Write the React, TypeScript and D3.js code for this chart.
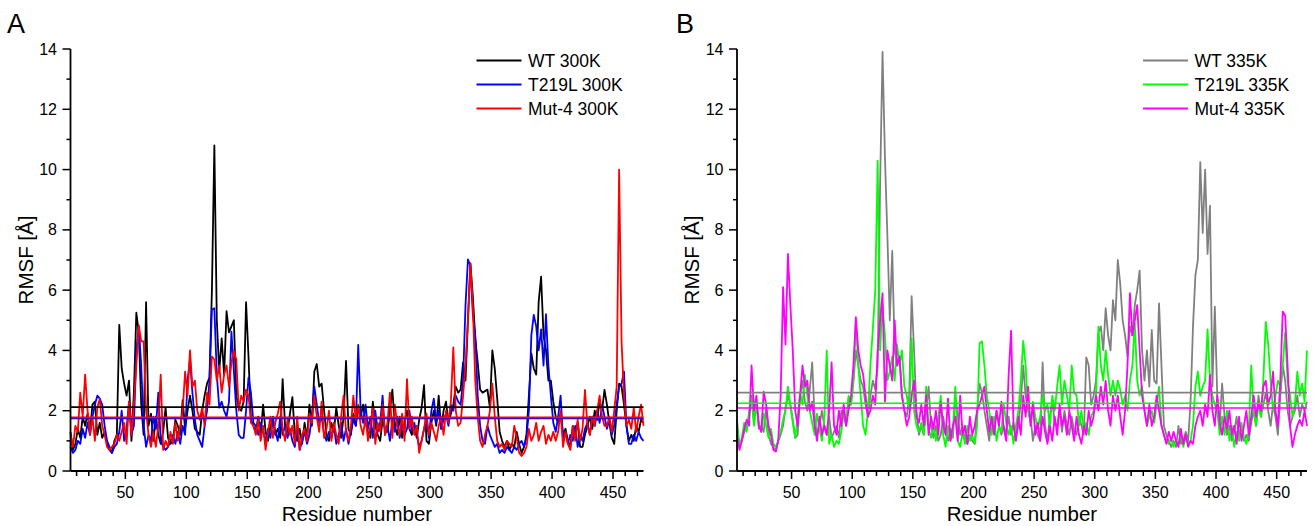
import React from "react";
import * as d3 from "d3";

// ---------- DATA ----------
// residues sampled every 2 from 5 to 475 (236 points)
const RES_START = 5;
const RES_STEP = 2;
const X_DOMAIN = [5, 475];
const Y_DOMAIN = [0, 14];
const X_MAJOR = [50, 100, 150, 200, 250, 300, 350, 400, 450];
const Y_MAJOR = [0, 2, 4, 6, 8, 10, 12, 14];

const wt300 = [
  1.3, 0.7, 0.9, 1.4, 1.1, 1.8, 1.5, 1.9, 1.3, 2.2,
  2.3, 1.2, 1.6, 1.1, 1.3, 0.9, 0.7, 0.6, 1.0, 1.2,
  4.85, 3.4, 2.9, 2.5, 3.0, 1.0, 2.6, 5.25, 4.6, 2.2,
  1.2, 5.6, 1.5, 1.9, 1.0, 1.8, 1.2, 0.9, 1.3, 2.1,
  1.1, 0.9, 1.0, 1.7, 1.5, 1.2, 2.35, 1.4, 2.0, 2.5,
  2.0, 1.4, 1.3, 1.2, 2.0, 2.5, 2.9, 3.1, 6.0, 10.8,
  5.0, 3.3, 4.4, 3.2, 5.3, 4.6, 4.8, 5.0, 2.5, 2.1,
  2.0, 2.3, 5.6, 3.8, 1.7, 1.5, 1.3, 1.8, 1.2, 2.2,
  1.3, 1.0, 1.5, 1.8, 1.2, 1.4, 1.1, 3.05, 1.5, 1.3,
  1.9, 2.45, 1.2, 1.0, 1.4, 0.9, 1.6, 1.1, 2.2, 1.5,
  3.3, 3.55, 2.8, 2.9, 2.0, 1.2, 1.0, 1.6, 1.3, 2.1,
  1.5, 1.1, 1.8, 3.65, 1.4, 1.2, 1.9, 1.5, 2.1, 1.8,
  2.2, 1.6, 1.3, 1.1, 2.3, 1.5, 1.2, 1.0, 1.7, 1.4,
  1.3, 2.0, 2.7, 1.5, 1.2, 1.8, 1.1, 1.6, 2.0, 1.4,
  1.2, 1.5, 1.1, 1.7, 2.1, 2.85, 1.0, 0.9, 1.6, 2.0,
  1.5, 2.5, 1.4, 2.0, 2.3, 1.6, 1.9, 2.2, 2.8, 2.6,
  2.7, 3.6, 3.0, 5.0, 6.89, 5.8, 4.4, 3.6, 2.7, 2.6,
  2.65, 2.7, 2.1, 4.0, 3.4, 2.4, 1.3, 1.0, 0.8, 1.0,
  0.7, 0.9, 0.8, 1.3, 0.9, 0.6, 0.8, 1.2, 2.5, 3.9,
  3.4, 3.2, 5.6, 6.45, 4.5, 4.0, 3.0, 3.0, 2.3, 1.8,
  1.6, 1.9, 1.2, 1.4, 1.0, 0.8, 1.5, 1.2, 1.6, 0.8,
  0.8, 1.2, 1.5, 1.8, 1.4, 2.0, 1.7, 2.3, 2.0, 2.69,
  2.2, 1.6, 1.1, 0.9, 2.0, 2.9, 2.8, 2.2, 1.5, 1.0,
  1.2, 1.0, 1.5, 1.3, 1.7, 1.6,
];

const t219l300 = [
  0.8, 0.6, 0.7, 1.0, 0.9, 1.4, 1.1, 1.6, 1.2, 1.8,
  2.2, 2.5, 2.4, 2.2, 1.5, 1.0, 0.8, 0.6, 0.8, 0.9,
  1.3, 2.0, 1.0, 1.4, 2.3, 1.2, 1.5, 4.0, 4.8, 3.5,
  1.5, 0.8, 1.2, 1.0, 1.8, 1.4, 2.6, 1.0, 0.8, 0.7,
  0.8, 1.0, 1.2, 0.9, 1.3, 0.9, 1.5, 1.2, 3.0, 3.7,
  2.6, 1.7, 1.2, 1.0, 0.8, 1.5, 2.0, 3.0, 5.36, 5.4,
  3.2, 2.1, 2.3, 2.0, 1.8, 2.3, 4.62, 3.3, 2.0, 1.2,
  1.1, 1.1, 2.0, 3.1, 2.6, 1.6, 1.5, 1.2, 1.6, 1.3,
  1.0, 1.4, 1.1, 1.7, 1.3, 1.0, 1.8, 1.2, 1.5, 1.1,
  1.4, 1.0, 0.8, 1.5, 0.7, 1.0, 1.3, 0.9, 1.2, 1.8,
  2.8, 2.2, 1.6, 1.8, 1.2, 1.0, 1.3, 1.1, 1.5, 0.9,
  1.2, 1.6, 1.0, 1.4, 0.9, 1.3, 1.7, 1.5, 4.18, 2.0,
  1.6, 2.2, 1.4, 1.8, 1.1, 2.0, 1.3, 1.6, 2.5, 1.2,
  1.5, 1.0, 1.7, 1.3, 1.8, 1.1, 1.6, 1.2, 1.4, 2.0,
  1.3, 1.6, 1.2, 0.8, 1.0, 1.4, 1.7, 1.1, 2.0, 2.4,
  1.6, 2.0, 1.4, 1.7, 1.9, 1.5, 2.2, 2.0, 2.5, 2.3,
  2.2, 3.0, 5.5, 7.02, 6.8, 5.2, 4.5, 2.5, 1.5, 1.0,
  0.9, 1.5, 1.2, 1.0, 0.8, 0.9, 0.6, 0.7, 0.6, 0.8,
  0.7, 0.6, 0.8, 0.7, 0.9, 1.0, 0.8, 1.1, 2.0, 4.5,
  5.18, 4.8, 4.0, 4.7, 3.5, 5.2, 3.5, 2.5, 1.6, 1.3,
  1.8, 2.5, 1.1, 1.3, 0.9, 1.2, 1.0, 1.5, 0.8, 1.2,
  1.0, 1.4, 1.6, 1.2, 1.8, 1.5, 2.0, 1.6, 2.2, 1.8,
  1.4, 1.7, 1.2, 1.5, 2.2, 2.8, 2.9, 3.3, 1.5, 0.9,
  0.9, 1.2, 1.0, 1.3, 1.1, 1.0,
];

const mut4_300 = [
  1.2, 0.8, 1.5, 1.3, 2.6, 1.8, 3.2, 2.0, 1.2, 1.8,
  1.0, 2.1, 2.4, 1.5, 1.2, 0.8, 0.7, 0.8, 0.9, 1.2,
  1.0, 1.3, 1.6, 0.9, 2.3, 1.2, 2.2, 3.5, 4.83, 4.3,
  4.3, 2.0, 1.2, 0.8, 1.3, 0.8, 1.5, 3.2, 0.7, 1.0,
  0.8, 1.3, 0.9, 1.6, 1.0, 1.5, 2.0, 3.3, 2.5, 4.0,
  2.8, 3.0, 2.0, 1.7, 2.1, 1.5, 2.6, 2.2, 3.8, 3.7,
  3.0, 3.5, 2.6, 3.2, 3.5, 2.8, 3.6, 4.0, 3.7, 2.0,
  2.5, 2.3, 2.7, 2.5, 1.6, 1.5, 1.2, 1.7, 1.0, 1.5,
  0.7, 1.3, 1.8, 1.1, 1.6, 1.9, 2.3, 1.4, 1.0, 1.7,
  1.2, 1.5, 0.9, 1.8, 0.7, 1.2, 1.4, 1.0, 1.9, 1.6,
  2.5, 1.8, 1.3, 2.3, 1.1, 1.4, 2.0, 1.0, 1.6, 1.2,
  0.9, 1.8, 2.5, 1.3, 1.0, 1.5, 2.5, 1.7, 2.2, 1.5,
  1.2, 1.8, 1.0, 1.5, 2.1, 0.9, 1.6, 1.3, 2.2, 1.2,
  1.6, 2.6, 1.1, 2.2, 1.5, 1.2, 1.9, 1.0, 3.05, 1.4,
  1.8, 1.2, 1.5, 0.6, 1.0, 1.4, 1.9, 1.2, 1.6, 1.3,
  1.0, 1.5, 1.8, 1.2, 2.0, 1.6, 2.3, 4.1, 2.0, 1.5,
  1.6, 2.5, 3.5, 5.0, 6.89, 5.5, 3.0, 1.8, 1.0, 0.8,
  1.2, 1.5, 2.0, 2.9, 1.8, 1.0, 0.8, 0.9, 0.7, 1.0,
  0.9, 0.8, 1.5, 1.1, 0.6, 0.5, 0.6, 0.8, 1.4, 1.0,
  1.2, 1.6, 1.0, 1.3, 1.5, 0.9, 1.2, 1.0, 1.3, 1.0,
  1.3, 2.0, 0.8, 1.3, 0.9, 0.7, 1.5, 1.0, 1.7, 1.0,
  1.4, 2.69, 1.5, 1.2, 1.8, 1.5, 2.0, 2.5, 1.8, 1.5,
  1.5, 1.8, 1.3, 2.0, 2.8, 10.0, 4.29, 2.5, 1.5, 1.7,
  1.4, 2.1, 1.3, 1.8, 2.2, 1.5,
];

const wt335 = [
  1.7, 0.8, 1.0, 1.3, 1.5, 1.8, 2.5, 1.6, 2.3, 1.4,
  1.5, 1.3, 2.1, 1.2, 0.9, 0.8, 0.65, 1.0, 1.2, 1.5,
  2.1, 2.5, 2.2, 1.7, 1.1, 1.2, 2.5, 3.0, 2.3, 2.0,
  2.7, 3.6, 1.8, 1.2, 1.5, 2.0, 1.5, 1.2, 1.8, 1.1,
  1.3, 1.5, 1.1, 2.0, 1.8, 1.5, 2.4, 2.2, 3.0, 4.0,
  3.5, 3.0, 2.8, 2.2, 1.8, 2.5, 3.0, 2.7, 3.5, 9.5,
  13.9, 10.4, 7.8, 5.0, 7.3, 4.0, 3.5, 3.8, 2.5, 2.0,
  1.8, 2.5, 5.8, 4.0, 2.0, 1.2, 1.5, 1.2, 2.0, 2.8,
  1.5, 1.1, 1.5, 1.0, 1.2, 1.8, 1.3, 1.0, 1.4, 1.1,
  2.5, 1.8, 1.2, 1.5, 1.0, 0.9, 1.2, 1.0, 0.9, 2.0,
  2.9, 2.6, 2.0, 1.5, 1.0, 1.8, 1.3, 2.0, 1.5, 1.2,
  1.5, 1.2, 1.8, 1.2, 1.6, 1.1, 1.5, 2.3, 3.5, 2.5,
  2.0, 1.8, 1.0, 1.5, 1.2, 1.0, 3.6, 1.5, 1.0, 1.8,
  2.3, 1.6, 1.5, 2.0, 1.3, 2.0, 1.5, 1.2, 1.8, 1.3,
  1.2, 1.8, 1.5, 1.2, 3.77, 3.5, 2.2, 2.5, 3.0, 4.6,
  4.8, 4.0, 5.4, 4.5, 4.0, 5.67, 5.0, 7.0, 6.2, 5.0,
  4.5, 3.8, 4.8, 4.5, 5.5, 6.0, 6.65, 4.0, 3.0, 4.0,
  2.8, 4.68, 3.0, 2.9, 5.56, 3.5, 1.5, 1.2, 1.0, 0.8,
  1.0, 0.8, 1.5, 0.9, 1.0, 1.3, 1.0, 2.3, 4.8, 6.5,
  7.0, 10.25, 7.9, 10.0, 7.2, 8.8, 2.8, 5.45, 2.5, 1.5,
  2.9, 1.8, 1.2, 1.5, 1.0, 1.3, 1.8, 1.1, 1.5, 1.0,
  1.2, 1.0, 1.6, 2.0, 1.5, 2.5, 1.8, 2.2, 2.6, 2.0,
  1.5, 2.2, 1.8, 1.2, 2.5, 3.5, 3.0, 2.0, 1.5, 1.8,
  2.0, 2.5, 1.8, 2.2, 2.0, 2.3,
];

const t219l335 = [
  1.5, 0.8, 1.1, 1.6, 1.3, 2.0, 2.4, 1.5, 2.2, 1.6,
  1.3, 1.9, 1.5, 1.1, 1.4, 0.9, 0.8, 1.0, 1.3, 1.7,
  2.0, 2.8, 2.2, 1.6, 1.1, 1.8, 2.6, 2.2, 3.2, 2.5,
  2.0, 1.6, 1.2, 1.9, 1.4, 1.0, 1.8, 4.0, 0.9, 1.2,
  0.8, 1.0, 0.9, 1.3, 2.0, 1.6, 2.5, 2.2, 3.0, 5.0,
  3.5, 2.5, 1.5, 1.2, 2.0, 3.5, 4.7, 6.0, 10.3, 4.0,
  5.5, 4.5, 3.0, 3.3, 3.8, 3.0, 4.2, 3.5, 4.0, 2.8,
  2.5, 2.0, 4.4, 2.0, 1.5, 1.3, 1.6, 1.2, 2.8, 1.4,
  1.1, 1.5, 1.0, 1.8, 2.5, 1.2, 0.8, 1.5, 1.0, 1.3,
  2.8, 1.0, 0.8, 1.3, 0.9, 1.5, 1.0, 1.2, 0.9, 1.5,
  4.24, 4.3, 3.5, 2.5, 2.0, 1.2, 1.8, 1.0, 1.5, 1.3,
  2.2, 1.6, 1.2, 1.5, 0.9, 1.5, 2.0, 3.0, 4.32, 3.5,
  2.0, 1.6, 2.3, 1.8, 1.4, 1.8, 2.5, 2.0, 2.2, 1.5,
  2.5, 2.0, 2.8, 3.5, 2.2, 3.0, 2.5, 2.0, 3.5, 2.6,
  2.5, 1.5, 2.0, 1.3, 1.6, 1.2, 1.8, 2.0, 2.5, 4.79,
  3.5, 3.0, 4.0, 3.2, 2.5, 3.0, 2.5, 3.0, 2.7, 2.2,
  2.5, 2.0, 3.0, 3.5, 4.9, 3.0, 2.5, 2.8, 2.0, 1.5,
  1.8, 2.0, 1.6, 2.2, 2.8, 1.5, 1.2, 1.0, 0.9, 1.1,
  0.8, 1.0, 0.9, 1.2, 0.8, 1.1, 0.9, 1.0, 1.5, 2.8,
  3.3, 2.5, 2.8, 3.0, 4.7, 3.0, 2.5, 2.2, 2.0, 1.2,
  1.8, 1.2, 2.0, 1.0, 1.5, 0.8, 1.3, 1.0, 1.6, 1.1,
  0.9, 1.3, 3.5, 2.0, 1.5, 2.2, 1.8, 3.0, 4.95, 4.2,
  3.0, 2.0, 2.5, 3.0, 2.8, 3.5, 4.6, 3.0, 2.5, 1.8,
  2.2, 3.3, 2.5, 2.9, 2.3, 4.0,
];

const mut4_335 = [
  1.2, 0.7, 1.0, 1.4, 1.7, 1.5, 3.5, 2.0, 2.5, 1.5,
  1.3, 2.63, 2.2, 1.5, 1.2, 0.7, 0.65, 1.0, 2.5, 6.1,
  4.2, 7.2, 5.5, 4.0, 2.0, 1.5, 2.5, 3.5, 2.8, 3.0,
  2.0, 2.3, 1.5, 1.0, 1.8, 1.2, 1.5, 1.2, 2.0, 3.6,
  1.5, 1.2, 2.0, 1.5, 2.2, 1.5, 2.0, 2.5, 3.5, 5.1,
  4.0, 3.5, 3.2, 2.5, 1.8, 2.0, 2.5, 2.2, 4.0, 5.0,
  5.9, 2.3, 4.0, 3.5, 3.0, 5.0, 3.5, 3.8, 2.5, 2.0,
  1.5, 1.8, 2.5, 3.0, 1.8, 1.6, 2.2, 1.5, 2.5, 1.2,
  1.8, 1.4, 2.0, 1.2, 2.3, 1.5, 1.2, 2.4, 1.0, 1.5,
  1.8, 1.0, 2.5, 1.2, 1.5, 0.9, 1.8, 1.2, 1.5, 2.0,
  2.2, 2.5, 2.8, 2.0, 1.3, 1.8, 1.2, 2.0, 1.5, 2.3,
  1.4, 1.0, 3.2, 4.66, 1.5, 1.0, 1.8, 1.2, 2.5, 1.8,
  2.8, 1.5, 2.2, 1.2, 1.6, 1.0, 1.8, 1.3, 0.9, 1.5,
  1.0, 1.8, 1.2, 2.2, 1.5, 1.8, 1.2, 2.0, 1.5, 1.0,
  1.8, 1.2, 0.9, 1.5, 1.2, 2.0, 1.5, 1.8, 2.5, 2.0,
  2.8, 2.2, 3.0, 2.0, 1.5, 2.5, 2.0, 2.5, 1.8, 1.2,
  2.0, 3.5, 5.9, 4.5, 5.0, 5.5, 4.0, 2.5, 2.0, 1.5,
  2.2, 1.5, 1.8, 2.5, 2.0, 1.5, 1.2, 0.9, 1.3, 1.0,
  1.3, 1.0, 0.8, 1.4, 0.9, 1.2, 0.8, 1.0, 0.9, 1.5,
  1.8, 2.0, 1.5, 2.2, 1.8, 3.2, 2.0, 1.5, 2.5, 1.6,
  1.2, 1.8, 1.4, 2.0, 1.2, 1.5, 0.9, 1.8, 1.0, 1.5,
  2.0, 1.2, 1.8, 2.5, 1.8, 2.3, 2.0, 2.8, 3.0, 2.2,
  2.5, 3.3, 2.0, 1.5, 3.0, 5.29, 5.15, 3.5, 1.5, 0.8,
  1.2, 1.5, 1.7, 1.5, 2.0, 1.5,
];

// average RMSF reference lines
const MEANS_300 = [2.12, 1.74, 1.78];
const MEANS_335 = [2.6, 2.25, 2.09];

const NAMES_300 = ["WT 300K", "T219L 300K", "Mut-4 300K"];
const NAMES_335 = ["WT 335K", "T219L 335K", "Mut-4 335K"];
const COLORS_300 = ["#000000", "#0000ff", "#ff0000"];
const COLORS_335 = ["#808080", "#00ff00", "#ff00ff"];

// ---------- LAYOUT ----------
const FONT = "'Liberation Sans', Arial, Helvetica, sans-serif";
const Y0 = 471;
const Y14 = 49;

type Series = { name: string; color: string; values: number[]; mean: number };

function Panel(props: {
  x0: number;
  x1: number;
  letter: string;
  letterX: number;
  series: Series[];
}) {
  const { x0, x1, letter, letterX, series } = props;
  const x = d3.scaleLinear().domain(X_DOMAIN).range([x0, x1]);
  const y = d3.scaleLinear().domain(Y_DOMAIN).range([Y0, Y14]);
  const line = d3
    .line<number>()
    .x((_, i) => x(RES_START + i * RES_STEP))
    .y((v) => y(v));

  const xMinor = d3.range(10, 475, 10).filter((t) => t % 50 !== 0);
  const yMinor = d3.range(1, 14, 2);
  const lx = x0 + 406;
  const legendRows = [60.5, 84.5, 108.5];

  return (
    <g>
      <text x={letterX} y={33} fontSize={27} fontFamily={FONT}>
        {letter}
      </text>
      {/* data */}
      <g>
        {series.map((s) => (
          <path
            key={s.name}
            d={line(s.values) || ""}
            fill="none"
            stroke={s.color}
            strokeWidth={1.8}
            strokeLinejoin="round"
          />
        ))}
        {series.map((s) => (
          <line
            key={s.name + "m"}
            x1={x0}
            x2={x1}
            y1={y(s.mean)}
            y2={y(s.mean)}
            stroke={s.color}
            strokeWidth={1.6}
          />
        ))}
      </g>
      {/* axes */}
      <line x1={x0} x2={x0} y1={Y0} y2={Y14} stroke="#000" strokeWidth={1.8} />
      <line x1={x0} x2={x1} y1={Y0} y2={Y0} stroke="#000" strokeWidth={1.8} />
      {Y_MAJOR.map((t) => (
        <g key={"ym" + t}>
          <line x1={x0 - 8} x2={x0} y1={y(t)} y2={y(t)} stroke="#000" strokeWidth={1.5} />
          <text
            x={x0 - 13.5}
            y={y(t)}
            dy="0.35em"
            textAnchor="end"
            fontSize={16}
            fontFamily={FONT}
          >
            {t}
          </text>
        </g>
      ))}
      {yMinor.map((t) => (
        <line key={"yn" + t} x1={x0 - 4} x2={x0} y1={y(t)} y2={y(t)} stroke="#000" strokeWidth={1.5} />
      ))}
      {X_MAJOR.map((t) => (
        <g key={"xm" + t}>
          <line x1={x(t)} x2={x(t)} y1={Y0} y2={Y0 + 8} stroke="#000" strokeWidth={1.5} />
          <text x={x(t)} y={498} textAnchor="middle" fontSize={16} fontFamily={FONT}>
            {t}
          </text>
        </g>
      ))}
      {xMinor.map((t) => (
        <line key={"xn" + t} x1={x(t)} x2={x(t)} y1={Y0} y2={Y0 + 5} stroke="#000" strokeWidth={1.5} />
      ))}
      <text
        x={(x0 + x1) / 2}
        y={521}
        textAnchor="middle"
        fontSize={20.5}
        fontFamily={FONT}
      >
        Residue number
      </text>
      <text
        transform={`translate(${x0 - 45},${(Y0 + Y14) / 2}) rotate(-90)`}
        textAnchor="middle"
        dy="0.35em"
        fontSize={20.5}
        fontFamily={FONT}
      >
        RMSF [Å]
      </text>
      {/* legend */}
      {series.map((s, i) => (
        <g key={s.name + "lg"}>
          <line
            x1={lx}
            x2={lx + 45}
            y1={legendRows[i]}
            y2={legendRows[i]}
            stroke={s.color}
            strokeWidth={2}
          />
          <text x={lx + 51.5} y={legendRows[i] + 6.3} fontSize={17.5} fontFamily={FONT}>
            {s.name}
          </text>
        </g>
      ))}
    </g>
  );
}

export default function App() {
  const vals300 = [wt300, t219l300, mut4_300];
  const vals335 = [wt335, t219l335, mut4_335];
  const s300: Series[] = NAMES_300.map((n, i) => ({
    name: n,
    color: COLORS_300[i],
    values: vals300[i],
    mean: MEANS_300[i],
  }));
  const s335: Series[] = NAMES_335.map((n, i) => ({
    name: n,
    color: COLORS_335[i],
    values: vals335[i],
    mean: MEANS_335[i],
  }));
  return (
    <svg
      width={1314}
      height={526}
      style={{ position: "absolute", left: 0, top: 0, background: "#fff" }}
    >
      <rect width={1314} height={526} fill="#fff" />
      <Panel x0={70.5} x1={643.5} letter="A" letterX={7} series={s300} />
      <Panel x0={737} x1={1307} letter="B" letterX={676} series={s335} />
    </svg>
  );
}
